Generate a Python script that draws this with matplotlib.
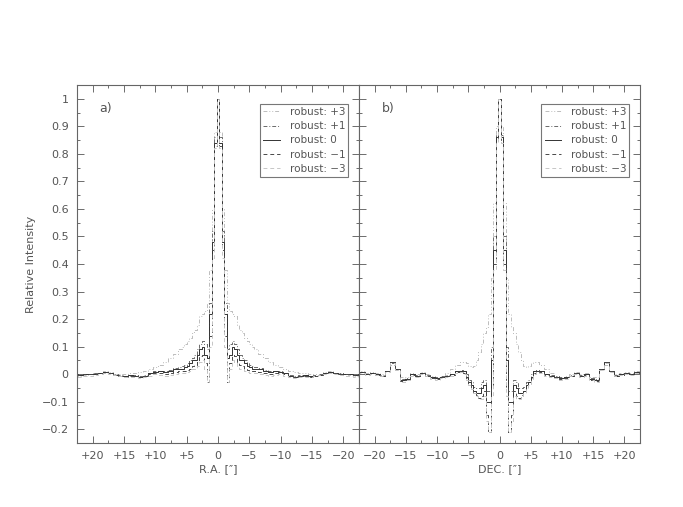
"""Perfiles del haz (R.A. y DEC.) para distintos valores de robust."""
import numpy as np
import matplotlib
matplotlib.use('Agg')
import matplotlib.pyplot as plt
from matplotlib.ticker import MultipleLocator, FuncFormatter

# Centros de pixel (mitad del perfil, en arcsec): 0.4" en el centro, 0.8" en las alas
r_centro = [0.0, 0.4, 0.8, 1.2, 1.6, 2.0, 2.4, 2.8, 3.2, 3.6, 4.0, 4.4, 4.8, 5.2, 5.6, 6.0]
r_alas = [6.8, 7.6, 8.4, 9.2, 10.0, 10.8, 11.6, 12.4, 13.2, 14.0, 14.8,
          15.6, 16.4, 17.2, 18.0, 18.8, 19.6, 20.4, 21.2, 22.0, 22.8]

etiquetas = ['robust: +3', 'robust: +1', 'robust: 0', 'robust: \u22121', 'robust: \u22123']

# Panel a) corte en R.A.
ra_p3 = [1.0, 0.88, 0.60, 0.38, 0.26, 0.23, 0.22, 0.21, 0.18, 0.16, 0.15, 0.13, 0.12, 0.11, 0.10, 0.09,
         0.075, 0.06, 0.045, 0.035, 0.025, 0.018, 0.01, 0.008, 0.006, 0.005, 0.002, 0.0, 0.002, 0.008,
         0.01, 0.006, 0.003, 0.0, -0.003, -0.006, -0.005]
ra_p1 = [1.0, 0.86, 0.52, 0.26, 0.09, 0.11, 0.12, 0.11, 0.09, 0.07, 0.06, 0.05, 0.04, 0.035, 0.03, 0.026,
         0.022, 0.016, 0.012, 0.012, 0.01, 0.005, -0.002, -0.006, -0.004, -0.002, -0.006, -0.004, 0.0,
         0.006, 0.008, 0.005, 0.003, 0.001, 0.001, -0.002, 0.0]
ra_0 = [1.0, 0.84, 0.48, 0.22, 0.06, 0.07, 0.10, 0.09, 0.07, 0.05, 0.05, 0.04, 0.03, 0.025, 0.02, 0.02,
        0.018, 0.012, 0.008, 0.01, 0.008, 0.003, -0.005, -0.01, -0.006, -0.004, -0.008, -0.006, -0.002,
        0.004, 0.007, 0.004, 0.002, 0.0, 0.001, -0.002, 0.0]
ra_m1 = [1.0, 0.83, 0.45, 0.14, -0.03, 0.04, 0.07, 0.065, 0.045, 0.035, 0.03, 0.02, 0.015, 0.012, 0.01, 0.01,
         0.008, 0.005, 0.002, 0.006, 0.006, 0.0, -0.006, -0.011, -0.007, -0.005, -0.009, -0.007, -0.003,
         0.003, 0.006, 0.004, 0.001, -0.001, 0.0, -0.003, 0.0]
ra_m3 = [1.0, 0.82, 0.42, 0.10, -0.03, 0.02, 0.05, 0.045, 0.03, 0.02, 0.02, 0.012, 0.008, 0.005, 0.004, 0.004,
         0.0, -0.002, -0.006, -0.002, 0.002, -0.006, -0.012, -0.015, -0.01, -0.009, -0.012, -0.008, -0.004,
         0.0, 0.004, 0.002, -0.003, -0.006, -0.006, -0.009, -0.007]

# Panel b) corte en DEC.
dec_p3 = [1.0, 0.90, 0.62, 0.35, 0.22, 0.17, 0.15, 0.11, 0.08, 0.05, 0.03, 0.025, 0.03, 0.04, 0.045, 0.045,
          0.035, 0.02, 0.005, -0.005, -0.01, -0.008, 0.0, 0.008, 0.0, 0.005, -0.01, -0.012, 0.015, 0.035,
          0.01, 0.0, 0.005, 0.008, 0.003, 0.01, 0.005]
dec_p1 = [1.0, 0.87, 0.50, 0.10, -0.06, -0.06, -0.02, -0.03, -0.05, -0.05, -0.045, -0.03, -0.02, 0.0, 0.012, 0.015,
          0.012, 0.002, -0.003, -0.008, -0.012, -0.01, -0.003, 0.006, -0.003, 0.002, -0.015, -0.018, 0.018,
          0.04, 0.01, -0.003, 0.002, 0.006, 0.001, 0.008, 0.005]
dec_0 = [1.0, 0.86, 0.45, 0.05, -0.10, -0.10, -0.04, -0.05, -0.07, -0.07, -0.06, -0.04, -0.03, -0.01, 0.01, 0.012,
         0.01, 0.0, -0.005, -0.01, -0.015, -0.012, -0.005, 0.005, -0.005, 0.0, -0.018, -0.022, 0.02, 0.045,
         0.01, -0.005, 0.0, 0.005, 0.0, 0.008, 0.005]
dec_m1 = [1.0, 0.85, 0.40, -0.05, -0.21, -0.15, -0.06, -0.08, -0.085, -0.075, -0.065, -0.05, -0.035, -0.015, 0.005, 0.01,
          0.008, -0.002, -0.008, -0.012, -0.018, -0.014, -0.006, 0.004, -0.007, -0.002, -0.02, -0.025, 0.02,
          0.045, 0.01, -0.006, -0.002, 0.004, -0.001, 0.007, 0.004]
dec_m3 = [1.0, 0.84, 0.38, -0.08, -0.21, -0.17, -0.08, -0.09, -0.09, -0.08, -0.07, -0.055, -0.04, -0.02, 0.0, 0.008,
          0.005, -0.005, -0.01, -0.015, -0.02, -0.016, -0.008, 0.002, -0.01, -0.005, -0.022, -0.028, 0.015,
          0.042, 0.008, -0.008, -0.004, 0.002, -0.003, 0.005, 0.003]

estilos = [
    dict(color='#bcbcbc', ls=(0, (4, 2, 1, 2, 1, 2))),
    dict(color='#6a6a6a', ls=(0, (4, 2, 1, 2))),
    dict(color='#333333', ls='-'),
    dict(color='#484848', ls=(0, (4, 3))),
    dict(color='#c6c6c6', ls=(0, (4, 3))),
]

gris = '#555555'
plt.rcParams['font.family'] = 'DejaVu Sans'
plt.rcParams['font.size'] = 8


def perfil_completo(v):
    """Arma el perfil completo espejando la mitad leida."""
    r = np.array(r_centro + r_alas)
    v = np.array(v)
    x = np.concatenate([-r[::-1], r[1:]])
    y = np.concatenate([v[::-1], v[1:]])
    return x, y


def fmt_x(v, pos):
    if abs(v) < 1e-9:
        return '0'
    return f'{v:+.0f}'.replace('-', '\u2212')


def fmt_y(v, pos):
    if abs(v) < 1e-9:
        return '0'
    return f'{v:.1f}'.rstrip('0').rstrip('.').replace('-', '\u2212') if v != 1 else '1'


fig = plt.figure(figsize=(6.83, 5.07), dpi=100)
ax_a = fig.add_axes([77/683, 1 - 443/507, 282/683, 358/507])
ax_b = fig.add_axes([359/683, 1 - 443/507, 281/683, 358/507])

paneles = [(ax_a, [ra_p3, ra_p1, ra_0, ra_m1, ra_m3], 'a)', 'R.A. [\u2033]'),
           (ax_b, [dec_p3, dec_p1, dec_0, dec_m1, dec_m3], 'b)', 'DEC. [\u2033]')]

for ax, series, letra, xlab in paneles:
    for v, est, lab in zip(series, estilos, etiquetas):
        x, y = perfil_completo(v)
        ax.plot(x, y, drawstyle='steps-mid', lw=0.7, label=lab, **est)

    ax.set_ylim(-0.25, 1.05)
    ax.xaxis.set_major_locator(MultipleLocator(5))
    ax.xaxis.set_minor_locator(MultipleLocator(2.5))
    ax.yaxis.set_major_locator(MultipleLocator(0.1))
    ax.yaxis.set_minor_locator(MultipleLocator(0.05))
    ax.xaxis.set_major_formatter(FuncFormatter(fmt_x))
    ax.yaxis.set_major_formatter(FuncFormatter(fmt_y))
    ax.tick_params(which='both', direction='in', top=True, right=True, colors=gris, labelcolor=gris,
                   width=0.6)
    ax.tick_params(which='major', length=5, pad=6)
    ax.tick_params(which='minor', length=2.5)
    for s in ax.spines.values():
        s.set_color('#666666')
        s.set_linewidth(0.8)
    ax.set_xlabel(xlab, color=gris, labelpad=2)
    ax.text(0.08, 0.925, letra, transform=ax.transAxes, color=gris, fontsize=9)
    leg = ax.legend(loc='upper right', bbox_to_anchor=(0.962, 0.947), borderaxespad=0,
                    fancybox=False, framealpha=1, edgecolor='#777777', handlelength=1.6,
                    handletextpad=0.9, labelspacing=0.4, borderpad=0.3, fontsize=7.5)
    leg.get_frame().set_linewidth(0.8)
    for t in leg.get_texts():
        t.set_color(gris)

ax_a.set_xlim(22.5, -22.5)
ax_b.set_xlim(-22.5, 22.5)
ax_b.tick_params(labelleft=False)
ax_a.set_ylabel('Relative Intensity', color=gris, labelpad=4)

fig.savefig('out.png', dpi=100)
